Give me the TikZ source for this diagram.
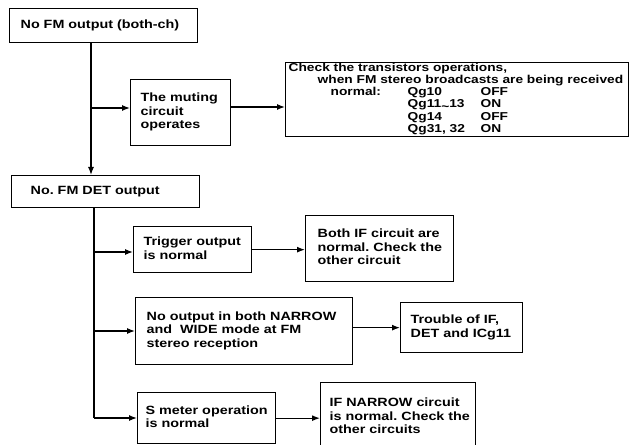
\documentclass[tikz,border=0pt]{standalone}
\usepackage{fontspec}
\setmainfont{Liberation Sans}[FakeStretch=1.2]
\usetikzlibrary{arrows.meta}

\newcommand{\qrow}[3]{\hspace*{42bp}\makebox[77bp][l]{#1}\makebox[73bp][l]{#2}#3}
\newcommand{\tl}[1]{\begin{tabular}{@{}l@{}}#1\end{tabular}}

\begin{document}
\begin{tikzpicture}[x=1bp,y=-1bp,
    tbox/.style={draw, line width=1.3bp, anchor=north west, align=left,
        inner xsep=10bp, inner ysep=0pt,
        font=\bfseries\fontsize{12}{13.5}\selectfont\frenchspacing},
    flow/.style={line width=1.3bp, -{Latex[length=8bp,width=6bp]}}]

\clip (0,0) rectangle (629,445);

% upper part
\node[tbox, inner xsep=11bp, text width=166bp, minimum height=34bp] (top) at (9,8) {\tl{No FM output (both-ch)}};
\node[tbox, text width=80bp, minimum height=66bp] (mute) at (130,79) {\tl{The muting\\circuit\\operates}};
\node[tbox, inner xsep=3bp, text width=337bp, minimum height=73bp,
    font=\bfseries\fontsize{11.5}{12.3}\selectfont] (check) at (285,62)
    {\tl{Check the transistors operations,\\
     \hspace*{29bp}when FM stereo broadcasts are being received\\
     \qrow{normal:}{Qg10}{OFF}\\
     \qrow{}{Qg11\raisebox{-0.35ex}{\textasciitilde}13}{ON}\\
     \qrow{}{Qg14}{OFF}\\
     \qrow{}{Qg31, 32}{ON}}};
\node[tbox, inner xsep=19bp, text width=150bp, minimum height=32bp] (det) at (11,175) {\tl{No. FM DET output}};

\coordinate (j1) at (91,108);
\coordinate (a1) at (0,107);
\draw[flow] (top.south -| j1) -- (det.north -| j1);
\draw[flow] (j1) -- (j1 -| mute.west);
\draw[flow] (mute.east |- a1) -- (check.west |- a1);

% lower part
\node[tbox, text width=98bp, minimum height=46bp] (trig) at (133,226) {\tl{Trigger output\\is normal}};
\node[tbox, inner xsep=12bp, text width=124bp, minimum height=66bp] (bothif) at (305,215) {\tl{Both IF circuit are\\normal. Check the\\other circuit}};
\node[tbox, inner xsep=11bp, text width=195bp, minimum height=67bp] (narrow) at (135,297) {\tl{No output in both NARROW\\and\ \ WIDE mode at FM\\stereo reception}};
\node[tbox, text width=102bp, minimum height=50bp] (trouble) at (400,302) {\tl{Trouble of IF,\\DET and ICg11}};
\node[tbox, inner xsep=8bp, text width=122bp, minimum height=51bp] (smeter) at (137,392) {\tl{S meter operation\\is normal}};
\node[tbox, inner xsep=9bp, text width=137bp, minimum height=70bp] (ifnar) at (320,382) {\tl{IF NARROW circuit\\is normal. Check the\\other circuits}};

\coordinate (j2) at (94,252);
\coordinate (j3) at (94,331);
\coordinate (j4) at (94,418);
\draw[line width=1.3bp] (det.south -| j2) -- (j4);
\draw[flow] (j2) -- (j2 -| trig.west);
\draw[flow] (j3) -- (j3 -| narrow.west);
\draw[flow] (j4) -- (j4 -| smeter.west);
\draw[flow] (trig.east) -- (trig.east -| bothif.west);
\draw[flow] (narrow.east |- trouble.west) -- (trouble.west);
\draw[flow] (smeter.east) -- (smeter.east -| ifnar.west);

\end{tikzpicture}
\end{document}
